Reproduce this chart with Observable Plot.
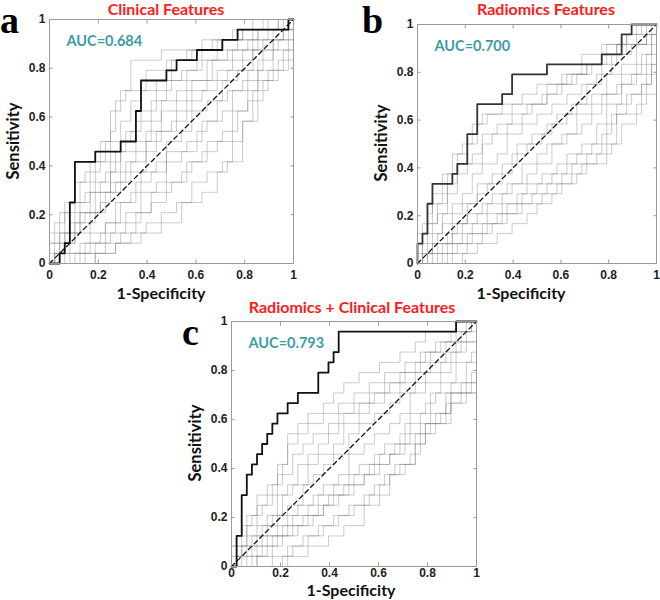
<!DOCTYPE html>
<html><head><meta charset="utf-8">
<script src="https://cdn.jsdelivr.net/npm/d3@7"></script>
<script src="https://cdn.jsdelivr.net/npm/@observablehq/plot@0.6"></script>
<style>
body{margin:0;background:#fff;}
#root{position:relative;width:660px;height:600px;overflow:hidden;background:#fff;}
.panel{position:absolute;}
.title{position:absolute;color:#ff1a1a;font:bold 16px Lato, sans-serif;white-space:nowrap;transform:translateX(-50%);line-height:1.1;}
.letter{position:absolute;font:bold 38px "Liberation Serif","DejaVu Serif",serif;line-height:1;color:#000;}
.xlab{position:absolute;font:bold 16px Lato, sans-serif;white-space:nowrap;transform:translateX(-50%);line-height:1;color:#111;}
.ylab{position:absolute;font:bold 16.5px Lato, sans-serif;white-space:nowrap;transform:translate(-50%,-50%) rotate(-90deg);line-height:1;color:#111;}
</style></head><body><div id="root"></div>
<script>
// ROC data: corners [negatives passed, positives passed] out of N_NEG / N_POS
const N_NEG = 48, N_POS = 24;
const ticks = [0, 0.2, 0.4, 0.6, 0.8, 1];
const tickLabels = ["0", "0.2", "0.4", "0.6", "0.8", "1"];
const titles = ["Clinical Features", "Radiomics Features", "Radiomics + Clinical Features"];
const aucLabels = ["AUC=0.684", "AUC=0.700", "AUC=0.793"];
const letters = ["a", "b", "c"];
const xTitle = "1-Specificity";
const yTitle = "Sensitivity";
const chance = [0, 1];

const rocA = [[0,0],[2,1],[3,2],[4,6],[5,10],[9,11],[14,12],[17,15],[18,18],[23,19],[25,20],[29,21],[34,22],[37,23],[47,24],[48,24]];
const rocB = [[0,0],[0,2],[1,3],[2,6],[3,8],[7,9],[8,10],[10,13],[12,16],[17,17],[19,19],[26,20],[37,21],[41,23],[43,24],[48,24]];
const rocC = [[0,0],[1,3],[2,7],[3,9],[4,10],[5,11],[6,12],[7,13],[8,14],[9,15],[11,16],[13,17],[17,19],[19,20],[20,21],[21,23],[44,24],[48,24]];

const grayA1 = [[0,0],[0,3],[1,4],[2,5],[4,6],[6,8],[7,9],[9,10],[11,12],[12,15],[14,17],[16,20],[22,21],[30,22],[38,23],[42,24],[48,24]];
const grayA2 = [[0,0],[0,2],[2,4],[3,5],[5,6],[7,7],[9,9],[10,10],[12,12],[14,14],[16,16],[18,17],[21,18],[24,20],[28,21],[33,22],[40,23],[45,24],[48,24]];
const grayA3 = [[0,0],[1,1],[2,3],[4,4],[6,6],[8,8],[11,9],[13,11],[15,13],[17,14],[20,16],[23,18],[26,19],[29,20],[33,21],[37,22],[41,23],[46,24],[48,24]];
const grayA4 = [[0,0],[0,1],[3,2],[5,4],[7,5],[10,6],[12,8],[15,10],[17,11],[19,13],[22,15],[25,16],[27,18],[31,20],[35,21],[39,22],[44,23],[47,24],[48,24]];
const grayA5 = [[0,0],[2,1],[4,3],[6,4],[9,5],[11,7],[14,9],[16,10],[19,11],[21,13],[24,14],[27,16],[30,17],[33,19],[36,20],[40,22],[43,23],[47,24],[48,24]];
const grayA6 = [[0,0],[3,1],[6,2],[8,3],[11,4],[13,6],[16,7],[18,9],[21,10],[23,12],[26,13],[28,15],[31,16],[34,18],[37,19],[40,21],[44,22],[46,23],[48,24]];
const grayA7 = [[0,0],[4,1],[7,2],[10,3],[13,4],[15,5],[18,7],[21,8],[23,10],[26,11],[29,13],[31,14],[34,15],[36,17],[39,19],[42,21],[45,22],[48,24]];
const grayA8 = [[0,0],[6,1],[9,2],[12,3],[15,4],[18,5],[20,6],[23,8],[26,9],[28,10],[31,12],[34,13],[37,15],[39,17],[41,19],[44,21],[47,22],[48,24]];
const grayA9 = [[0,0],[9,1],[13,2],[16,3],[19,4],[22,5],[25,6],[28,8],[31,9],[34,10],[36,12],[38,14],[40,17],[43,19],[46,21],[48,24]];
const grayA10 = [[0,0],[9,1],[13,2],[18,3],[22,4],[26,6],[30,7],[33,9],[35,10],[38,14],[41,18],[44,19],[47,21],[48,24]];
const grayA11 = [[0,0],[1,2],[3,3],[5,5],[8,7],[10,8],[12,10],[14,12],[16,13],[18,15],[21,17],[24,18],[27,19],[30,21],[34,22],[38,23],[43,24],[48,24]];
const grayA12 = [[0,0],[1,1],[3,3],[6,5],[9,7],[12,9],[14,11],[17,12],[20,14],[22,16],[25,17],[28,18],[32,20],[36,21],[41,23],[45,24],[48,24]];
const grayA13 = [[0,0],[2,2],[5,3],[8,5],[10,7],[13,8],[16,9],[19,12],[22,13],[25,15],[28,17],[31,18],[35,19],[38,21],[42,22],[46,23],[48,24]];
const grayA14 = [[0,0],[5,1],[8,2],[11,4],[14,6],[17,8],[20,9],[23,11],[27,12],[30,14],[33,16],[35,17],[38,18],[41,20],[44,22],[47,23],[48,24]];
const grayA15 = [[0,0],[7,1],[11,2],[14,3],[17,5],[20,7],[24,8],[27,10],[30,11],[33,12],[36,15],[39,16],[42,18],[45,20],[48,22],[48,24]];
const grayA16 = [[0,0],[0,2],[1,3],[3,6],[5,8],[8,10],[10,12],[12,13],[13,16],[15,17],[19,19],[23,20],[27,21],[32,22],[36,23],[40,24],[48,24]];

const grayB1 = [[0,0],[0,2],[1,4],[2,5],[3,7],[5,9],[7,11],[9,12],[11,14],[13,15],[17,16],[21,17],[24,18],[29,19],[33,21],[37,22],[41,23],[43,24],[48,24]];
const grayB2 = [[0,0],[0,1],[1,3],[3,4],[4,6],[6,7],[8,9],[10,10],[13,12],[15,13],[18,14],[21,15],[23,16],[26,17],[29,18],[32,19],[35,20],[38,22],[42,23],[45,24],[48,24]];
const grayB3 = [[0,0],[1,1],[2,2],[4,3],[5,5],[7,6],[9,7],[11,9],[13,10],[16,11],[18,13],[21,14],[24,15],[27,16],[30,17],[33,18],[36,19],[39,21],[42,22],[46,23],[48,24]];
const grayB4 = [[0,0],[2,1],[3,2],[6,3],[8,4],[10,6],[12,7],[14,8],[17,9],[19,11],[22,12],[25,13],[27,14],[30,15],[32,16],[35,17],[38,19],[41,20],[44,22],[47,24],[48,24]];
const grayB5 = [[0,0],[3,1],[5,2],[7,3],[9,4],[12,5],[14,6],[17,7],[19,8],[22,9],[24,10],[27,12],[30,13],[33,14],[35,15],[37,17],[40,18],[43,19],[45,21],[47,23],[48,24]];
const grayB6 = [[0,0],[4,1],[6,2],[9,3],[11,4],[14,5],[17,6],[20,7],[22,8],[25,9],[28,10],[30,11],[33,12],[36,14],[38,16],[41,18],[44,19],[46,21],[48,24]];
const grayB7 = [[0,0],[6,1],[8,2],[11,3],[14,4],[17,5],[20,6],[23,7],[26,8],[29,9],[31,10],[34,11],[37,13],[39,15],[42,17],[45,18],[47,20],[48,24]];
const grayB8 = [[0,0],[9,1],[12,2],[16,3],[19,4],[22,5],[24,6],[27,7],[29,8],[32,9],[34,10],[38,12],[40,15],[45,18],[47,20],[48,24]];
const grayB9 = [[0,0],[1,2],[2,4],[4,5],[6,8],[8,10],[11,11],[13,13],[16,14],[19,15],[22,16],[26,18],[30,19],[34,20],[37,21],[40,22],[44,23],[46,24],[48,24]];
const grayB10 = [[0,0],[1,1],[3,3],[5,4],[7,5],[9,6],[12,8],[15,9],[17,10],[20,12],[23,13],[26,14],[28,15],[31,16],[34,18],[37,20],[40,21],[43,22],[46,23],[48,24]];
const grayB11 = [[0,0],[2,1],[4,2],[7,4],[10,5],[13,6],[15,7],[18,8],[21,10],[24,11],[26,12],[29,13],[32,15],[35,16],[38,17],[41,19],[44,20],[47,22],[48,24]];
const grayB12 = [[0,0],[5,1],[7,2],[10,3],[13,4],[16,5],[18,6],[21,7],[24,8],[27,9],[30,10],[32,11],[35,12],[38,14],[40,16],[43,17],[46,19],[48,21],[48,24]];
const grayB13 = [[0,0],[7,1],[10,2],[13,3],[15,4],[18,5],[21,6],[25,7],[28,8],[31,9],[33,10],[36,11],[39,12],[41,14],[44,16],[46,17],[48,19],[48,24]];
const grayB14 = [[0,0],[0,3],[2,4],[3,6],[5,7],[6,9],[8,11],[10,12],[12,14],[14,15],[19,16],[25,17],[28,18],[31,19],[34,20],[37,21],[40,22],[42,23],[44,24],[48,24]];

const grayC1 = [[0,0],[0,2],[2,4],[5,6],[7,7],[9,9],[10,10],[11,13],[13,14],[15,15],[18,16],[20,17],[22,18],[25,19],[29,20],[33,21],[36,22],[38,23],[44,24],[48,24]];
const grayC2 = [[0,0],[0,1],[2,2],[3,3],[5,4],[7,5],[9,7],[11,8],[13,10],[15,11],[17,12],[19,13],[21,15],[24,16],[27,17],[30,18],[33,19],[36,20],[39,21],[42,22],[45,23],[47,24],[48,24]];
const grayC3 = [[0,0],[1,1],[3,2],[5,3],[7,4],[9,5],[11,6],[14,8],[16,9],[18,10],[20,11],[23,13],[25,14],[28,15],[31,16],[33,17],[36,18],[38,19],[41,20],[44,22],[46,23],[48,24]];
const grayC4 = [[0,0],[2,1],[4,2],[6,3],[9,4],[11,5],[13,6],[16,7],[18,8],[21,9],[23,11],[26,12],[28,13],[31,14],[33,15],[35,17],[38,18],[41,19],[43,21],[46,22],[48,24]];
const grayC5 = [[0,0],[4,1],[6,2],[8,3],[11,4],[14,5],[17,6],[19,7],[22,8],[24,9],[27,10],[29,11],[32,12],[34,14],[37,15],[39,17],[41,18],[44,20],[47,21],[48,24]];
const grayC6 = [[0,0],[5,1],[8,2],[10,3],[13,4],[16,5],[18,6],[21,7],[24,8],[26,9],[29,10],[31,11],[34,12],[36,13],[39,15],[42,17],[45,18],[48,20],[48,24]];
const grayC7 = [[0,0],[10,1],[12,2],[15,3],[18,4],[21,5],[24,6],[27,7],[29,8],[31,9],[33,10],[36,12],[38,14],[41,15],[43,17],[46,18],[48,19],[48,24]];
const grayC8 = [[0,0],[11,1],[15,2],[19,3],[22,4],[26,6],[29,7],[31,9],[34,10],[36,12],[38,14],[43,17],[47,19],[48,24]];
const grayC9 = [[0,0],[1,2],[3,4],[4,5],[6,6],[8,8],[10,9],[12,11],[14,12],[16,13],[19,14],[22,15],[25,16],[28,17],[31,18],[34,19],[37,21],[40,22],[43,23],[46,24],[48,24]];
const grayC10 = [[0,0],[1,1],[2,2],[4,3],[6,4],[8,5],[10,7],[12,8],[15,10],[17,11],[20,12],[22,14],[25,15],[27,16],[30,17],[33,18],[36,19],[39,20],[42,21],[45,22],[48,23],[48,24]];
const grayC11 = [[0,0],[3,1],[5,2],[7,3],[10,4],[12,5],[15,6],[17,7],[20,8],[23,9],[25,10],[28,11],[30,12],[33,13],[35,15],[38,16],[40,17],[43,18],[46,20],[48,22],[48,24]];
const grayC12 = [[0,0],[5,1],[7,2],[9,3],[12,4],[15,5],[18,6],[20,7],[23,8],[26,9],[28,10],[31,11],[33,12],[35,13],[37,14],[40,15],[43,16],[46,17],[48,18],[48,24]];
const grayC13 = [[0,0],[8,1],[11,2],[14,3],[17,4],[20,5],[23,6],[26,7],[28,8],[30,9],[32,10],[35,11],[37,13],[40,14],[42,16],[45,17],[48,18],[48,24]];
const grayC14 = [[0,0],[0,2],[1,3],[3,5],[5,7],[7,8],[9,10],[11,12],[13,13],[15,14],[18,15],[21,16],[24,17],[27,18],[30,19],[34,20],[38,21],[41,22],[44,23],[47,24],[48,24]];

const panels = [
  {roc: rocA, grays: [grayA1,grayA2,grayA3,grayA4,grayA5,grayA6,grayA7,grayA8,grayA9,grayA10,grayA11,grayA12,grayA13,grayA14,grayA15,grayA16],
   left: 0, top: 0, w: 300, h: 300, ml: 49, mr: 7, mt: 19, mb: 37, blackColor: "#111", tp: 7,
   titleX: 166, titleY: 0, letterX: 0, letterY: 1, xlabX: 161, xlabY: 285, ylabX: 13, ylabY: 141},
  {roc: rocB, grays: [grayB1,grayB2,grayB3,grayB4,grayB5,grayB6,grayB7,grayB8,grayB9,grayB10,grayB11,grayB12,grayB13,grayB14],
   left: 386, top: 0, w: 274, h: 300, ml: 31, mr: 4, mt: 24, mb: 37, blackColor: "#333", tp: 7,
   titleX: 546, titleY: 0, letterX: 362, letterY: 1, xlabX: 521, xlabY: 285, ylabX: 381, ylabY: 143},
  {roc: rocC, grays: [grayC1,grayC2,grayC3,grayC4,grayC5,grayC6,grayC7,grayC8,grayC9,grayC10,grayC11,grayC12,grayC13,grayC14],
   left: 181, top: 300, w: 300, h: 300, ml: 50, mr: 5, mt: 21, mb: 34, blackColor: "#111", tp: 2,
   titleX: 352, titleY: 298, letterX: 182, letterY: 313, xlabX: 351, xlabY: 582, ylabX: 195, ylabY: 443}
];

const toPts = c => c.map(([i, j]) => ({fpr: i / N_NEG, tpr: j / N_POS}));
const fmt = d => tickLabels[ticks.indexOf(d)];
const root = document.getElementById("root");

panels.forEach((p, k) => {
  const chart = Plot.plot({
    width: p.w, height: p.h,
    marginLeft: p.ml, marginRight: p.mr, marginTop: p.mt, marginBottom: p.mb,
    x: {domain: [0, 1]}, y: {domain: [0, 1]},
    style: {fontFamily: "'Liberation Sans', Arial, sans-serif", fontSize: "12px", fontWeight: "bold", color: "#222", background: "transparent", overflow: "visible"},
    marks: [
      ...p.grays.map(g => Plot.line(toPts(g), {x: "fpr", y: "tpr", curve: "step-after", stroke: "#666", strokeOpacity: 0.34, strokeWidth: 1})),
      Plot.line(chance.map(v => ({fpr: v, tpr: v})), {x: "fpr", y: "tpr", stroke: "#111", strokeWidth: 1.3, strokeDasharray: "4.5,3.5"}),
      Plot.line(toPts(p.roc), {x: "fpr", y: "tpr", curve: "step-after", stroke: p.blackColor, strokeWidth: 1.8}),
      Plot.frame({stroke: "#9a9a9a", strokeWidth: 1}),
      Plot.axisX(ticks, {anchor: "bottom", tickSize: -3.5, tickFormat: () => "", label: null, stroke: "#9a9a9a"}),
      Plot.axisX(ticks, {anchor: "top", tickSize: -3.5, tickFormat: () => "", label: null, stroke: "#9a9a9a"}),
      Plot.axisY(ticks, {anchor: "left", tickSize: -3.5, tickFormat: () => "", label: null, stroke: "#9a9a9a"}),
      Plot.axisY(ticks, {anchor: "right", tickSize: -3.5, tickFormat: () => "", label: null, stroke: "#9a9a9a"}),
      Plot.axisX(ticks, {anchor: "bottom", tickSize: 0, tickPadding: p.tp, tickFormat: fmt, label: null}),
      Plot.axisY(ticks, {anchor: "left", tickSize: 0, tickPadding: 4, tickFormat: fmt, label: null}),
      Plot.text([aucLabels[k]], {frameAnchor: "top-left", dx: 17, dy: 22, text: d => d, fill: "#3d9ca8", fontSize: 14.5, fontWeight: "bold", fontFamily: "Lato, sans-serif", textAnchor: "start", lineAnchor: "middle"})
    ]
  });
  chart.classList.add("panel");
  chart.style.left = p.left + "px";
  chart.style.top = p.top + "px";
  root.appendChild(chart);

  const t = document.createElement("div");
  t.className = "title"; t.textContent = titles[k];
  t.style.left = p.titleX + "px"; t.style.top = p.titleY + "px";
  root.appendChild(t);

  const l = document.createElement("div");
  l.className = "letter"; l.textContent = letters[k];
  l.style.left = p.letterX + "px"; l.style.top = p.letterY + "px";
  root.appendChild(l);

  const xl = document.createElement("div");
  xl.className = "xlab"; xl.textContent = xTitle;
  xl.style.left = p.xlabX + "px"; xl.style.top = p.xlabY + "px";
  root.appendChild(xl);

  const yl = document.createElement("div");
  yl.className = "ylab"; yl.textContent = yTitle;
  yl.style.left = p.ylabX + "px"; yl.style.top = p.ylabY + "px";
  root.appendChild(yl);
});
</script>
</body></html>
